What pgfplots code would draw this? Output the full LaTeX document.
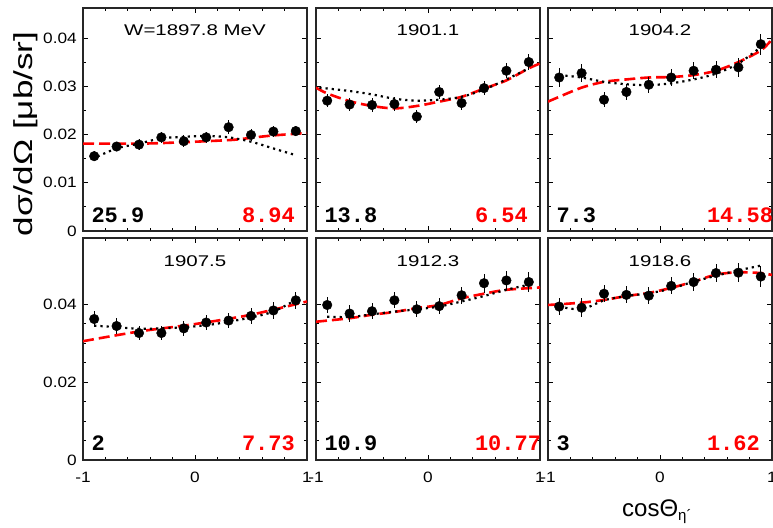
\documentclass[border=0pt]{standalone}
\usepackage{fontspec}
\usepackage{pgfplots}
\pgfplotsset{compat=1.18}
\setmainfont{Liberation Sans}
\newfontfamily\ticksf[FakeStretch=1.15]{Liberation Sans}
\newfontfamily\titlesf[FakeStretch=1.32]{Liberation Sans}
\newfontfamily\labelsf[FakeStretch=1.35]{Liberation Sans}
\newfontfamily\numfont{Liberation Mono}

\pgfplotsset{
  panel/.style={
    scale only axis, width=224pt, anchor=south west,
    xmin=-1, xmax=1, scaled ticks=false,
    xtick={-1,0,1}, xticklabels={-1,0,1}, minor x tick num=4,
    tick align=inside,
    major tick length=5pt, minor tick length=3pt,
    every tick/.style={black, line width=0.8pt},
    axis line style={line width=1.2pt, black!85},
    tick label style={font=\ticksf\fontsize{15}{15}\selectfont},
    yticklabel style={inner sep=0pt, xshift=-6pt},
    xticklabel style={inner sep=0pt, yshift=-12pt},
    clip mode=individual,
    error bars/y dir=both, error bars/y explicit,
    error bars/error mark=none,
    error bars/error bar style={line width=0.9pt, black},
  },
  toprow/.style={panel, height=223pt, ymin=0, ymax=0.0462,
    ytick={0,0.01,0.02,0.03,0.04}, minor y tick num=1, xticklabels={}},
  botrow/.style={panel, height=222pt, ymin=0, ymax=0.057,
    ytick={0,0.02,0.04}, minor y tick num=3},
  fitA/.style={red, line width=2.6pt, dash pattern=on 11pt off 5pt, smooth},
  fitB/.style={black, line width=2.2pt, dash pattern=on 2.2pt off 4pt, smooth},
  meas/.style={only marks, mark=*, mark size=4.8pt, black, mark options={fill=black}},
}
\newcommand{\wtitle}[2]{\node[anchor=base, font=\titlesf\fontsize{15.5}{15.5}\selectfont] at (rel axis cs:0.5,1) [yshift=#2] {#1};}
\newcommand{\chis}[3]{%
  \node[anchor=base west, font=\numfont\bfseries\fontsize{22}{22}\selectfont] at (rel axis cs:0,0) [xshift=5pt, yshift=#3] {#1};
  \node[anchor=base west, text=red, font=\numfont\bfseries\fontsize{22}{22}\selectfont] at (rel axis cs:0,0) [xshift=155.5pt, yshift=#3] {#2};}

\begin{document}
\begin{tikzpicture}
\useasboundingbox (0,0) rectangle (773pt,527pt);

% ---------- W = 1897.8 MeV ----------
\begin{axis}[toprow, at={(83pt,296pt)}, yticklabels={0,0.01,0.02,0.03,0.04}]
\addplot[fitA] coordinates {(-1,0.0181) (-0.5,0.0181) (-0.2,0.0183) (0.1,0.0186) (0.35,0.0189) (0.5,0.0193) (0.7,0.0198) (1,0.0203)};
\addplot[fitB] coordinates {(-0.92,0.0149) (-0.7,0.0171) (-0.5,0.0181) (-0.3,0.0192) (-0.1,0.0195) (0.1,0.0197) (0.3,0.0194) (0.5,0.0185) (0.7,0.0171) (0.9,0.0157)};
\addplot[meas] coordinates {
 (-0.9,0.0155) +- (0,0.0010) (-0.7,0.0175) +- (0,0.0010) (-0.5,0.0179) +- (0,0.0011)
 (-0.3,0.0194) +- (0,0.0011) (-0.1,0.0186) +- (0,0.0012) (0.1,0.0194) +- (0,0.0012)
 (0.3,0.0215) +- (0,0.0014) (0.5,0.0199) +- (0,0.0012) (0.7,0.0206) +- (0,0.0012)
 (0.9,0.0207) +- (0,0.0011)};
\wtitle{W=1897.8 MeV}{-27.7pt}
\chis{25.9}{8.94}{8pt}
\end{axis}

% ---------- 1901.1 ----------
\begin{axis}[toprow, at={(316pt,296pt)}, yticklabels={}]
\addplot[fitA] coordinates {(-1,0.0297) (-0.9,0.0285) (-0.7,0.0269) (-0.5,0.0259) (-0.3,0.0254) (-0.1,0.0259) (0.1,0.0268) (0.3,0.0278) (0.5,0.0295) (0.7,0.0312) (0.9,0.0337) (1,0.0347)};
\addplot[fitB] coordinates {(-0.97,0.0297) (-0.7,0.0290) (-0.5,0.0283) (-0.3,0.0274) (-0.1,0.0270) (0.1,0.0272) (0.3,0.0278) (0.5,0.0293) (0.7,0.0314) (0.9,0.0337)};
\addplot[meas] coordinates {
 (-0.9,0.0270) +- (0,0.0014) (-0.7,0.0262) +- (0,0.0014) (-0.5,0.0261) +- (0,0.0014)
 (-0.3,0.0263) +- (0,0.0014) (-0.1,0.0237) +- (0,0.0013) (0.1,0.0288) +- (0,0.0015)
 (0.3,0.0265) +- (0,0.0015) (0.5,0.0296) +- (0,0.0015) (0.7,0.0332) +- (0,0.0016)
 (0.9,0.0350) +- (0,0.0016)};
\wtitle{1901.1}{-27.7pt}
\chis{13.8}{6.54}{8pt}
\end{axis}

% ---------- 1904.2 ----------
\begin{axis}[toprow, at={(548pt,296pt)}, yticklabels={}]
\addplot[fitA] coordinates {(-1,0.0268) (-0.9,0.0278) (-0.7,0.0297) (-0.5,0.0309) (-0.3,0.0314) (-0.1,0.0318) (0.1,0.0319) (0.3,0.0323) (0.5,0.0332) (0.7,0.0350) (0.9,0.0374) (1,0.0397)};
\addplot[fitB] coordinates {(-0.9,0.0323) (-0.7,0.0318) (-0.5,0.0309) (-0.3,0.0304) (-0.1,0.0302) (0.1,0.0306) (0.3,0.0314) (0.5,0.0326) (0.7,0.0347) (0.9,0.0381)};
\addplot[meas] coordinates {
 (-0.9,0.0318) +- (0,0.0020) (-0.7,0.0327) +- (0,0.0018) (-0.5,0.0272) +- (0,0.0016)
 (-0.3,0.0288) +- (0,0.0016) (-0.1,0.0303) +- (0,0.0017) (0.1,0.0318) +- (0,0.0018)
 (0.3,0.0332) +- (0,0.0018) (0.5,0.0334) +- (0,0.0018) (0.7,0.0339) +- (0,0.0020)
 (0.9,0.0387) +- (0,0.0022)};
\wtitle{1904.2}{-27.7pt}
\chis{7.3}{14.58}{8pt}
\end{axis}

% ---------- 1907.5 ----------
\begin{axis}[botrow, at={(83pt,67pt)}, yticklabels={0,0.02,0.04}]
\addplot[fitA] coordinates {(-1,0.0305) (-0.5,0.0330) (0,0.0349) (0.5,0.0373) (1,0.0407)};
\addplot[fitB] coordinates {(-0.9,0.0345) (-0.7,0.0341) (-0.5,0.0337) (-0.3,0.0338) (-0.1,0.0341) (0.1,0.0346) (0.3,0.0355) (0.5,0.0366) (0.7,0.0381) (0.9,0.0411)};
\addplot[meas] coordinates {
 (-0.9,0.0362) +- (0,0.0020) (-0.7,0.0344) +- (0,0.0020) (-0.5,0.0326) +- (0,0.0019)
 (-0.3,0.0326) +- (0,0.0019) (-0.1,0.0338) +- (0,0.0020) (0.1,0.0353) +- (0,0.0020)
 (0.3,0.0358) +- (0,0.0020) (0.5,0.0370) +- (0,0.0021) (0.7,0.0384) +- (0,0.0021)
 (0.9,0.0410) +- (0,0.0022)};
\wtitle{1907.5}{-28.7pt}
\chis{2}{7.73}{9.5pt}
\end{axis}

% ---------- 1912.3 ----------
\begin{axis}[botrow, at={(316pt,67pt)}, yticklabels={}]
\addplot[fitA] coordinates {(-1,0.0355) (-0.7,0.0364) (-0.5,0.0373) (-0.3,0.0380) (-0.1,0.0390) (0.1,0.0398) (0.3,0.0415) (0.5,0.0427) (0.7,0.0437) (1,0.0443)};
\addplot[fitB] coordinates {(-0.9,0.0368) (-0.7,0.0367) (-0.5,0.0374) (-0.3,0.0381) (-0.1,0.0387) (0.1,0.0394) (0.3,0.0407) (0.5,0.0421) (0.7,0.0437) (0.9,0.0450)};
\addplot[meas] coordinates {
 (-0.9,0.0398) +- (0,0.0020) (-0.7,0.0376) +- (0,0.0021) (-0.5,0.0382) +- (0,0.0021)
 (-0.3,0.0410) +- (0,0.0021) (-0.1,0.0387) +- (0,0.0020) (0.1,0.0395) +- (0,0.0021)
 (0.3,0.0423) +- (0,0.0022) (0.5,0.0454) +- (0,0.0024) (0.7,0.0461) +- (0,0.0024)
 (0.9,0.0457) +- (0,0.0026)};
\wtitle{1912.3}{-28.7pt}
\chis{10.9}{10.77}{9.5pt}
\end{axis}

% ---------- 1918.6 ----------
\begin{axis}[botrow, at={(548pt,67pt)}, yticklabels={}]
\addplot[fitA] coordinates {(-1,0.0398) (-0.7,0.0404) (-0.5,0.0411) (-0.3,0.0421) (-0.1,0.0429) (0.1,0.0442) (0.3,0.0458) (0.5,0.0476) (0.7,0.0482) (0.9,0.0480) (1,0.0475)};
\addplot[fitB] coordinates {(-0.9,0.0394) (-0.7,0.0387) (-0.5,0.0410) (-0.3,0.0421) (-0.1,0.0428) (0.1,0.0440) (0.3,0.0458) (0.5,0.0473) (0.7,0.0487) (0.9,0.0499)};
\addplot[meas] coordinates {
 (-0.9,0.0394) +- (0,0.0022) (-0.7,0.0391) +- (0,0.0024) (-0.5,0.0427) +- (0,0.0022)
 (-0.3,0.0424) +- (0,0.0022) (-0.1,0.0422) +- (0,0.0022) (0.1,0.0447) +- (0,0.0022)
 (0.3,0.0457) +- (0,0.0024) (0.5,0.0480) +- (0,0.0024) (0.7,0.0481) +- (0,0.0025)
 (0.9,0.0471) +- (0,0.0026)};
\wtitle{1918.6}{-28.7pt}
\chis{3}{1.62}{9.5pt}
\end{axis}

% axis titles
\node[rotate=90, font=\labelsf\fontsize{26}{26}\selectfont] at (26pt,393pt) {dσ/dΩ [μb/sr]};
\node[anchor=base west, inner sep=0pt] at (622pt,11pt)
  {\fontsize{24}{24}\selectfont cosΘ\raisebox{-5pt}{\fontsize{15}{15}\selectfont η´}};
\end{tikzpicture}
\end{document}
